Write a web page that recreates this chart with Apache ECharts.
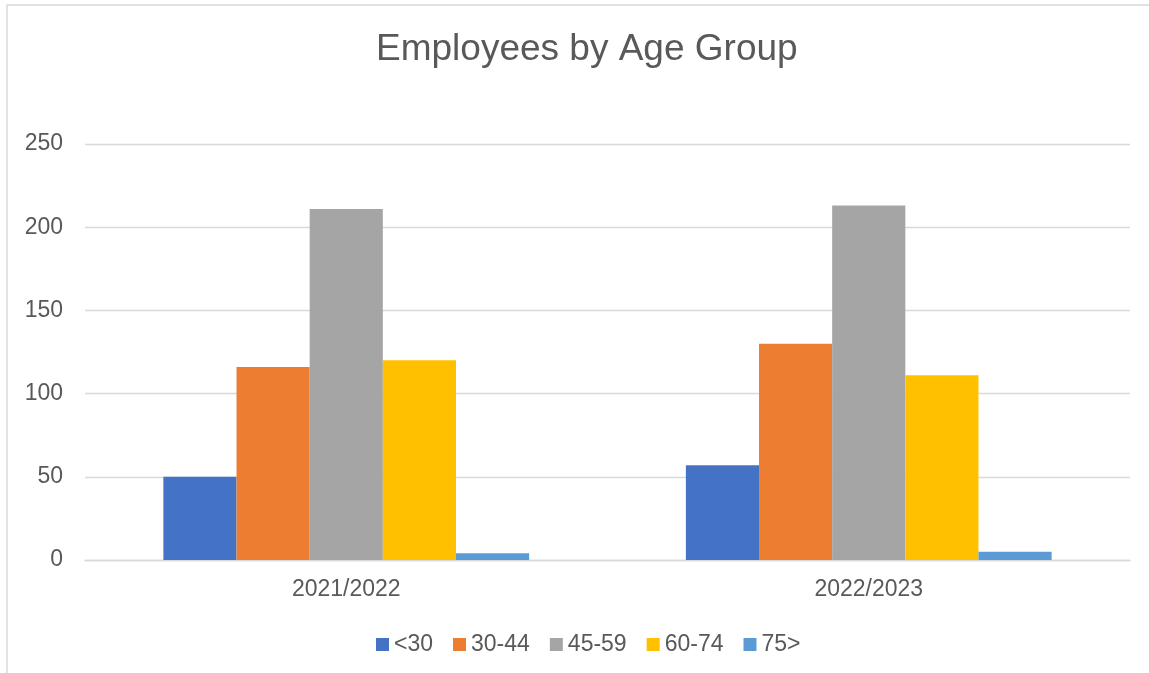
<!DOCTYPE html>
<html>
<head>
<meta charset="utf-8">
<script src="https://cdn.jsdelivr.net/npm/echarts@6/dist/echarts.min.js"></script>
<style>
  html, body { margin: 0; padding: 0; background: #fff; }
  #chart { width: 1149px; height: 673px; }
</style>
</head>
<body>
<div id="chart"></div>
<script>
var categories = ["2021/2022", "2022/2023"];
var seriesNames = ["<30", "30-44", "45-59", "60-74", "75>"];
var under30 = [50, 57];
var age30to44 = [116, 130];
var age45to59 = [211, 213];
var age60to74 = [120, 111];
var over75 = [4, 5];
var yTicks = { min: 0, max: 250, interval: 50 };

var colors = ["#4472C4", "#ED7D31", "#A5A5A5", "#FFC000", "#5B9BD5"];
var values = [under30, age30to44, age45to59, age60to74, over75];
var textColor = "#595959";
var font = "Liberation Sans, Arial, sans-serif";

var chart = echarts.init(document.getElementById("chart"));

var series = [];
for (var i = 0; i < seriesNames.length; i++) {
  series.push({
    name: seriesNames[i],
    type: "bar",
    data: values[i],
    barGap: "0%",
    barCategoryGap: "30%",
    itemStyle: { color: colors[i] }
  });
}

chart.setOption({
  backgroundColor: "#ffffff",
  color: colors,
  animation: false,
  graphic: [
    {
      type: "rect",
      shape: { x: 7, y: 5, width: 1160, height: 690 },
      style: { fill: "none", stroke: "#d9d9d9", lineWidth: 1.5 },
      silent: true
    }
  ],
  title: {
    text: "Employees by Age Group",
    left: 371,
    top: 26,
    textStyle: {
      fontFamily: font,
      fontWeight: "normal",
      fontSize: 37,
      color: textColor
    }
  },
  legend: {
    data: seriesNames,
    left: 371,
    top: 628,
    icon: "rect",
    itemWidth: 13,
    itemHeight: 13,
    itemGap: 20,
    textStyle: { fontFamily: font, fontSize: 23, color: textColor }
  },
  grid: { left: 85, right: 19, top: 144, bottom: 113 },
  xAxis: {
    type: "category",
    data: categories,
    axisLine: { lineStyle: { color: "#d9d9d9", width: 1.3 } },
    axisTick: { show: false },
    axisLabel: { fontFamily: font, fontSize: 23, color: textColor, margin: 18 }
  },
  yAxis: {
    type: "value",
    min: yTicks.min,
    max: yTicks.max,
    interval: yTicks.interval,
    axisLine: { show: false },
    axisTick: { show: false },
    splitLine: { lineStyle: { color: "#d9d9d9", width: 1.3 } },
    axisLabel: { fontFamily: font, fontSize: 23, color: textColor, margin: 22 }
  },
  series: series
});
</script>
</body>
</html>
